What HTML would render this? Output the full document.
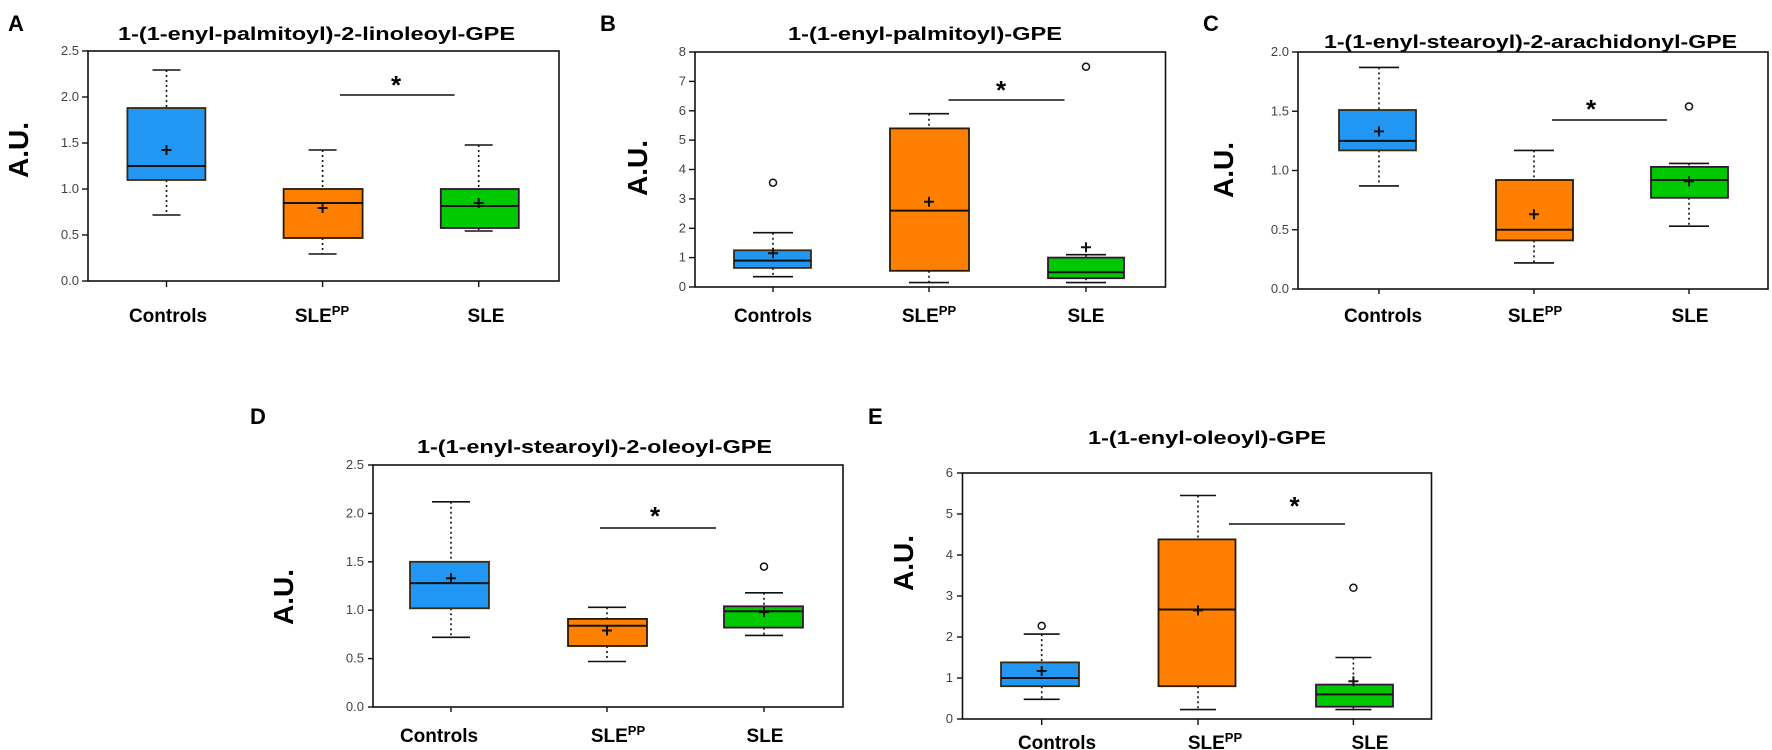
<!DOCTYPE html>
<html><head><meta charset="utf-8"><style>
html,body{margin:0;padding:0;background:#fff;}
svg{display:block;font-family:"Liberation Sans",sans-serif;}
.fr{fill:none;stroke:#111;stroke-width:1.6}
.tk{stroke:#111;stroke-width:1.4}
.tl{font-size:13px;fill:#444;text-anchor:end}
.wh{stroke:#111;stroke-width:1.6;stroke-dasharray:2,3}
.cap{stroke:#111;stroke-width:1.6}
.bb{fill:#2196F3;stroke:#3a2a10;stroke-width:1.8}
.bo{fill:#FF8000;stroke:#2a1a00;stroke-width:1.8}
.bg{fill:#00C800;stroke:#3a103a;stroke-width:1.8}
.md{stroke:#111;stroke-width:2}
.mn{stroke:#111;stroke-width:2}
.ol{fill:#fff;stroke:#111;stroke-width:1.5}
.sig{stroke:#111;stroke-width:1.6}
.st{font-size:26px;font-weight:bold;text-anchor:middle}
.ti{font-size:18px;font-weight:bold}
.xl{font-size:19px;font-weight:bold;text-anchor:middle}
.au{font-size:28px;font-weight:bold;text-anchor:middle}
.pl{font-size:22px;font-weight:bold}
</style></head><body>
<svg width="1772" height="750" viewBox="0 0 1772 750" xmlns="http://www.w3.org/2000/svg">

<!-- ===== Panel A ===== -->
<text class="pl" x="8" y="31">A</text>
<text class="ti" x="118" y="40" textLength="397" lengthAdjust="spacingAndGlyphs">1-(1-enyl-palmitoyl)-2-linoleoyl-GPE</text>
<text class="au" transform="translate(28,150) rotate(-90)">A.U.</text>
<rect class="fr" x="88" y="51" width="471" height="230"/>
<g class="tk"><line x1="82" y1="281" x2="88" y2="281"/><line x1="82" y1="235" x2="88" y2="235"/><line x1="82" y1="189" x2="88" y2="189"/><line x1="82" y1="143" x2="88" y2="143"/><line x1="82" y1="97" x2="88" y2="97"/><line x1="82" y1="51" x2="88" y2="51"/>
<line x1="166.5" y1="281" x2="166.5" y2="287"/><line x1="322.6" y1="281" x2="322.6" y2="287"/><line x1="478.7" y1="281" x2="478.7" y2="287"/></g>
<g class="tl"><text x="79" y="285">0.0</text><text x="79" y="239">0.5</text><text x="79" y="193">1.0</text><text x="79" y="147">1.5</text><text x="79" y="101">2.0</text><text x="79" y="55">2.5</text></g>
<line class="wh" x1="166.5" y1="70" x2="166.5" y2="108"/><line class="wh" x1="166.5" y1="180" x2="166.5" y2="215"/>
<line class="cap" x1="152.5" y1="70" x2="180.5" y2="70"/><line class="cap" x1="152.5" y1="215" x2="180.5" y2="215"/>
<rect class="bb" x="127.4" y="108" width="78" height="72"/><line class="md" x1="127.4" y1="166" x2="205.4" y2="166"/>
<path class="mn" d="M161.5 150h10M166.5 145v10"/>
<line class="wh" x1="322.6" y1="150" x2="322.6" y2="189"/><line class="wh" x1="322.6" y1="238" x2="322.6" y2="254"/>
<line class="cap" x1="308.6" y1="150" x2="336.6" y2="150"/><line class="cap" x1="308.6" y1="254" x2="336.6" y2="254"/>
<rect class="bo" x="283.6" y="189" width="79" height="49"/><line class="md" x1="283.6" y1="203" x2="362.6" y2="203"/>
<path class="mn" d="M317.6 208h10M322.6 203v10"/>
<line class="wh" x1="478.7" y1="145" x2="478.7" y2="189"/><line class="wh" x1="478.7" y1="228" x2="478.7" y2="231"/>
<line class="cap" x1="464.7" y1="145" x2="492.7" y2="145"/><line class="cap" x1="464.7" y1="231" x2="492.7" y2="231"/>
<rect class="bg" x="440.8" y="189" width="78" height="39"/><line class="md" x1="440.8" y1="206" x2="518.8" y2="206"/>
<path class="mn" d="M473.7 203h10M478.7 198v10"/>
<line class="sig" x1="340" y1="95" x2="454.6" y2="95"/><text class="st" x="396" y="94">*</text>
<g class="xl"><text x="168" y="322">Controls</text><text x="322" y="322">SLE<tspan font-size="13" dy="-7">PP</tspan></text><text x="486" y="322">SLE</text></g>

<!-- ===== Panel B ===== -->
<text class="pl" x="600" y="31">B</text>
<text class="ti" x="788" y="40" textLength="274" lengthAdjust="spacingAndGlyphs">1-(1-enyl-palmitoyl)-GPE</text>
<text class="au" transform="translate(647,168) rotate(-90)">A.U.</text>
<rect class="fr" x="695" y="52" width="470.5" height="235"/>
<g class="tk"><line x1="689" y1="287" x2="695" y2="287"/><line x1="689" y1="257.6" x2="695" y2="257.6"/><line x1="689" y1="228.3" x2="695" y2="228.3"/><line x1="689" y1="198.9" x2="695" y2="198.9"/><line x1="689" y1="169.5" x2="695" y2="169.5"/><line x1="689" y1="140.1" x2="695" y2="140.1"/><line x1="689" y1="110.8" x2="695" y2="110.8"/><line x1="689" y1="81.4" x2="695" y2="81.4"/><line x1="689" y1="52" x2="695" y2="52"/>
<line x1="773" y1="287" x2="773" y2="292"/><line x1="929" y1="287" x2="929" y2="292"/><line x1="1086" y1="287" x2="1086" y2="292"/></g>
<g class="tl"><text x="686" y="291">0</text><text x="686" y="261.6">1</text><text x="686" y="232.3">2</text><text x="686" y="202.9">3</text><text x="686" y="173.5">4</text><text x="686" y="144.1">5</text><text x="686" y="114.8">6</text><text x="686" y="85.4">7</text><text x="686" y="56">8</text></g>
<line class="wh" x1="773" y1="232.7" x2="773" y2="250.3"/><line class="wh" x1="773" y1="267.9" x2="773" y2="276.7"/>
<line class="cap" x1="753" y1="232.7" x2="793" y2="232.7"/><line class="cap" x1="753" y1="276.7" x2="793" y2="276.7"/>
<rect class="bb" x="734" y="250.3" width="77" height="17.6"/><line class="md" x1="734" y1="260.6" x2="811" y2="260.6"/>
<path class="mn" d="M768 253.2h10M773 248.2v10"/><circle class="ol" cx="773" cy="182.7" r="3.5"/>
<line class="wh" x1="929" y1="113.7" x2="929" y2="128.4"/><line class="wh" x1="929" y1="270.8" x2="929" y2="282.6"/>
<line class="cap" x1="909" y1="113.7" x2="949" y2="113.7"/><line class="cap" x1="909" y1="282.6" x2="949" y2="282.6"/>
<rect class="bo" x="890" y="128.4" width="79" height="142.4"/><line class="md" x1="890" y1="210.6" x2="969" y2="210.6"/>
<path class="mn" d="M924 201.8h10M929 196.8v10"/>
<line class="wh" x1="1086" y1="254.7" x2="1086" y2="257.6"/><line class="wh" x1="1086" y1="278.2" x2="1086" y2="282.6"/>
<line class="cap" x1="1066" y1="254.7" x2="1106" y2="254.7"/><line class="cap" x1="1066" y1="282.6" x2="1106" y2="282.6"/>
<rect class="bg" x="1048" y="257.6" width="76" height="20.6"/><line class="md" x1="1048" y1="272.3" x2="1124" y2="272.3"/>
<path class="mn" d="M1081 247.3h10M1086 242.3v10"/><circle class="ol" cx="1086" cy="66.7" r="3.5"/>
<line class="sig" x1="948.5" y1="100" x2="1064.5" y2="100"/><text class="st" x="1001" y="99">*</text>
<g class="xl"><text x="773" y="322">Controls</text><text x="929" y="322">SLE<tspan font-size="13" dy="-7">PP</tspan></text><text x="1086" y="322">SLE</text></g>

<!-- ===== Panel C ===== -->
<text class="pl" x="1203" y="31">C</text>
<text class="ti" x="1324" y="48" textLength="413" lengthAdjust="spacingAndGlyphs">1-(1-enyl-stearoyl)-2-arachidonyl-GPE</text>
<text class="au" transform="translate(1233,170) rotate(-90)">A.U.</text>
<rect class="fr" x="1298" y="52" width="470" height="237"/>
<g class="tk"><line x1="1292" y1="289" x2="1298" y2="289"/><line x1="1292" y1="229.75" x2="1298" y2="229.75"/><line x1="1292" y1="170.5" x2="1298" y2="170.5"/><line x1="1292" y1="111.25" x2="1298" y2="111.25"/><line x1="1292" y1="52" x2="1298" y2="52"/>
<line x1="1379" y1="289" x2="1379" y2="294"/><line x1="1534" y1="289" x2="1534" y2="294"/><line x1="1689" y1="289" x2="1689" y2="294"/></g>
<g class="tl"><text x="1289" y="293">0.0</text><text x="1289" y="233.75">0.5</text><text x="1289" y="174.5">1.0</text><text x="1289" y="115.25">1.5</text><text x="1289" y="56">2.0</text></g>
<line class="wh" x1="1379" y1="67.4" x2="1379" y2="110"/><line class="wh" x1="1379" y1="150.4" x2="1379" y2="185.9"/>
<line class="cap" x1="1359" y1="67.4" x2="1399" y2="67.4"/><line class="cap" x1="1359" y1="185.9" x2="1399" y2="185.9"/>
<rect class="bb" x="1339" y="110" width="77" height="40.4"/><line class="md" x1="1339" y1="140.9" x2="1416" y2="140.9"/>
<path class="mn" d="M1374 131.4h10M1379 126.4v10"/>
<line class="wh" x1="1534" y1="150.4" x2="1534" y2="180"/><line class="wh" x1="1534" y1="240.4" x2="1534" y2="262.9"/>
<line class="cap" x1="1514" y1="150.4" x2="1554" y2="150.4"/><line class="cap" x1="1514" y1="262.9" x2="1554" y2="262.9"/>
<rect class="bo" x="1496" y="180" width="77" height="60.4"/><line class="md" x1="1496" y1="229.75" x2="1573" y2="229.75"/>
<path class="mn" d="M1529 214.3h10M1534 209.3v10"/>
<line class="wh" x1="1689" y1="163.4" x2="1689" y2="166.9"/><line class="wh" x1="1689" y1="197.8" x2="1689" y2="226.2"/>
<line class="cap" x1="1669" y1="163.4" x2="1709" y2="163.4"/><line class="cap" x1="1669" y1="226.2" x2="1709" y2="226.2"/>
<rect class="bg" x="1651" y="166.9" width="77" height="30.9"/><line class="md" x1="1651" y1="180" x2="1728" y2="180"/>
<path class="mn" d="M1684 181.2h10M1689 176.2v10"/><circle class="ol" cx="1689" cy="106.5" r="3.5"/>
<line class="sig" x1="1552" y1="120" x2="1667" y2="120"/><text class="st" x="1591" y="118">*</text>
<g class="xl"><text x="1383" y="322">Controls</text><text x="1535" y="322">SLE<tspan font-size="13" dy="-7">PP</tspan></text><text x="1690" y="322">SLE</text></g>

<!-- ===== Panel D ===== -->
<text class="pl" x="250" y="424">D</text>
<text class="ti" x="417" y="453" textLength="355" lengthAdjust="spacingAndGlyphs">1-(1-enyl-stearoyl)-2-oleoyl-GPE</text>
<text class="au" transform="translate(293,597) rotate(-90)">A.U.</text>
<rect class="fr" x="373" y="465" width="470" height="242"/>
<g class="tk"><line x1="368" y1="707" x2="373" y2="707"/><line x1="368" y1="658.6" x2="373" y2="658.6"/><line x1="368" y1="610.2" x2="373" y2="610.2"/><line x1="368" y1="561.8" x2="373" y2="561.8"/><line x1="368" y1="513.4" x2="373" y2="513.4"/><line x1="368" y1="465" x2="373" y2="465"/>
<line x1="451" y1="707" x2="451" y2="712"/><line x1="607" y1="707" x2="607" y2="712"/><line x1="764" y1="707" x2="764" y2="712"/></g>
<g class="tl"><text x="364" y="711">0.0</text><text x="364" y="662.6">0.5</text><text x="364" y="614.2">1.0</text><text x="364" y="565.8">1.5</text><text x="364" y="517.4">2.0</text><text x="364" y="469">2.5</text></g>
<line class="wh" x1="451" y1="501.8" x2="451" y2="561.8"/><line class="wh" x1="451" y1="608.3" x2="451" y2="637.3"/>
<line class="cap" x1="432" y1="501.8" x2="470" y2="501.8"/><line class="cap" x1="432" y1="637.3" x2="470" y2="637.3"/>
<rect class="bb" x="410" y="561.8" width="79" height="46.5"/><line class="md" x1="410" y1="583.1" x2="489" y2="583.1"/>
<path class="mn" d="M446 578.3h10M451 573.3v10"/>
<line class="wh" x1="607" y1="607.3" x2="607" y2="618.9"/><line class="wh" x1="607" y1="646" x2="607" y2="661.5"/>
<line class="cap" x1="588" y1="607.3" x2="626" y2="607.3"/><line class="cap" x1="588" y1="661.5" x2="626" y2="661.5"/>
<rect class="bo" x="568" y="618.9" width="79" height="27.1"/><line class="md" x1="568" y1="625.7" x2="647" y2="625.7"/>
<path class="mn" d="M602 630.5h10M607 625.5v10"/>
<line class="wh" x1="764" y1="592.8" x2="764" y2="606.3"/><line class="wh" x1="764" y1="627.6" x2="764" y2="635.4"/>
<line class="cap" x1="745" y1="592.8" x2="783" y2="592.8"/><line class="cap" x1="745" y1="635.4" x2="783" y2="635.4"/>
<rect class="bg" x="724" y="606.3" width="79" height="21.3"/><line class="md" x1="724" y1="611.2" x2="803" y2="611.2"/>
<path class="mn" d="M759 612.1h10M764 607.1v10"/><circle class="ol" cx="764" cy="566.6" r="3.5"/>
<line class="sig" x1="600" y1="528" x2="716" y2="528"/><text class="st" x="655" y="525">*</text>
<g class="xl"><text x="439" y="742">Controls</text><text x="618" y="742">SLE<tspan font-size="13" dy="-7">PP</tspan></text><text x="765" y="742">SLE</text></g>

<!-- ===== Panel E ===== -->
<text class="pl" x="868" y="424">E</text>
<text class="ti" x="1088" y="444" textLength="238" lengthAdjust="spacingAndGlyphs">1-(1-enyl-oleoyl)-GPE</text>
<text class="au" transform="translate(913,563) rotate(-90)">A.U.</text>
<rect class="fr" x="962.5" y="473" width="469" height="246"/>
<g class="tk"><line x1="957" y1="719" x2="962.5" y2="719"/><line x1="957" y1="678" x2="962.5" y2="678"/><line x1="957" y1="637" x2="962.5" y2="637"/><line x1="957" y1="596" x2="962.5" y2="596"/><line x1="957" y1="555" x2="962.5" y2="555"/><line x1="957" y1="514" x2="962.5" y2="514"/><line x1="957" y1="473" x2="962.5" y2="473"/>
<line x1="1041.7" y1="719" x2="1041.7" y2="725"/><line x1="1198" y1="719" x2="1198" y2="725"/><line x1="1353.4" y1="719" x2="1353.4" y2="725"/></g>
<g class="tl"><text x="953" y="723">0</text><text x="953" y="682">1</text><text x="953" y="641">2</text><text x="953" y="600">3</text><text x="953" y="559">4</text><text x="953" y="518">5</text><text x="953" y="477">6</text></g>
<line class="wh" x1="1041.7" y1="634.1" x2="1041.7" y2="662.4"/><line class="wh" x1="1041.7" y1="686.2" x2="1041.7" y2="699.3"/>
<line class="cap" x1="1023.7" y1="634.1" x2="1059.7" y2="634.1"/><line class="cap" x1="1023.7" y1="699.3" x2="1059.7" y2="699.3"/>
<rect class="bb" x="1001" y="662.4" width="78" height="23.8"/><line class="md" x1="1001" y1="678" x2="1079" y2="678"/>
<path class="mn" d="M1036.7 671h10M1041.7 666v10"/><circle class="ol" cx="1041.7" cy="625.9" r="3.5"/>
<line class="wh" x1="1198" y1="495.5" x2="1198" y2="539.4"/><line class="wh" x1="1198" y1="686.2" x2="1198" y2="709.6"/>
<line class="cap" x1="1180" y1="495.5" x2="1216" y2="495.5"/><line class="cap" x1="1180" y1="709.6" x2="1216" y2="709.6"/>
<rect class="bo" x="1158.5" y="539.4" width="77" height="146.8"/><line class="md" x1="1158.5" y1="609.5" x2="1235.5" y2="609.5"/>
<path class="mn" d="M1193 610.4h10M1198 605.4v10"/>
<line class="wh" x1="1353.4" y1="657.5" x2="1353.4" y2="684.6"/><line class="wh" x1="1353.4" y1="706.7" x2="1353.4" y2="709.6"/>
<line class="cap" x1="1335.4" y1="657.5" x2="1371.4" y2="657.5"/><line class="cap" x1="1335.4" y1="709.6" x2="1371.4" y2="709.6"/>
<rect class="bg" x="1316" y="684.6" width="77" height="22.1"/><line class="md" x1="1316" y1="694.4" x2="1393" y2="694.4"/>
<path class="mn" d="M1348.4 681.3h10M1353.4 676.3v10"/><circle class="ol" cx="1353.4" cy="587.8" r="3.5"/>
<line class="sig" x1="1229" y1="524" x2="1345" y2="524"/><text class="st" x="1294.5" y="515">*</text>
<g class="xl"><text x="1057" y="749">Controls</text><text x="1215" y="749">SLE<tspan font-size="13" dy="-7">PP</tspan></text><text x="1370" y="749">SLE</text></g>
</svg>
</body></html>
